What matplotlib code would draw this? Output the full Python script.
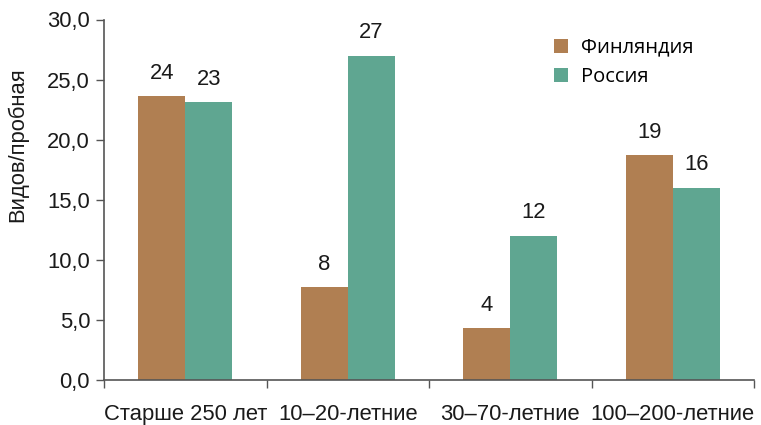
import matplotlib
matplotlib.use("Agg")
import matplotlib.pyplot as plt
import numpy as np
from matplotlib.ticker import FuncFormatter, FixedLocator

categories = ["Старше 250 лет", "10–20-летние", "30–70-летние", "100–200-летние"]
finland = [23.6, 7.7, 4.3, 18.7]
russia = [23.1, 27.0, 12.0, 16.0]
finland_labels = ["24", "8", "4", "19"]
russia_labels = ["23", "27", "12", "16"]
series_names = ["Финляндия", "Россия"]

plt.rcParams['font.family'] = ['Liberation Sans', 'DejaVu Sans']

fig = plt.figure(figsize=(7.61, 4.25), dpi=100)
ax = fig.add_axes([104/761, 45/425, (754-104)/761, (380-19.5)/425])

x = np.arange(len(categories))
w = 0.29
c_fin = '#B07F52'
c_rus = '#5FA691'
ax.bar(x - w/2, finland, w, color=c_fin, label=series_names[0])
ax.bar(x + w/2, russia, w, color=c_rus, label=series_names[1])

fs = 15.8
for xi, v, lab in zip(x - w/2, finland, finland_labels):
    ax.annotate(lab, (xi, v), xytext=(0, 9), textcoords='offset points',
                ha='center', va='bottom', fontsize=fs, color='#1a1a1a')
for xi, v, lab in zip(x + w/2, russia, russia_labels):
    ax.annotate(lab, (xi, v), xytext=(0, 9), textcoords='offset points',
                ha='center', va='bottom', fontsize=fs, color='#1a1a1a')

ax.set_xlim(-0.5, len(categories) - 0.5)
ax.set_ylim(0, 30)
ax.set_yticks(np.arange(0, 30.1, 5))
ax.yaxis.set_major_formatter(FuncFormatter(lambda v, p: f"{v:.1f}".replace('.', ',')))
ax.set_xticks(x)
ax.set_xticklabels(categories)
ax.xaxis.set_minor_locator(FixedLocator(np.arange(-0.5, len(categories), 1)))
ax.tick_params(axis='x', which='major', length=0, pad=17, labelsize=fs, colors='#1a1a1a')
ax.tick_params(axis='x', which='minor', length=6, width=1, color='#555555')
ax.tick_params(axis='y', length=6, width=1, color='#555555', labelsize=fs, labelcolor='#1a1a1a', pad=4)
ax.get_xticklabels()[0].set_x(-0.05)

for s in ['top', 'right']:
    ax.spines[s].set_visible(False)
for s in ['left', 'bottom']:
    ax.spines[s].set_color('#555555')
    ax.spines[s].set_linewidth(1.2)

ax.set_ylabel("Видов/пробная", fontsize=15.8, color='#1a1a1a')
ax.yaxis.set_label_coords(-0.116, 0.652)

leg = ax.legend(loc='upper left', bbox_to_anchor=(0.665, 1.0), frameon=False,
                prop={'family': ['Open Sans', 'DejaVu Sans'], 'size': 14.5},
                handlelength=0.7, handleheight=0.7, handletextpad=0.6, labelspacing=0.45)

fig.savefig("out.png", dpi=100)
